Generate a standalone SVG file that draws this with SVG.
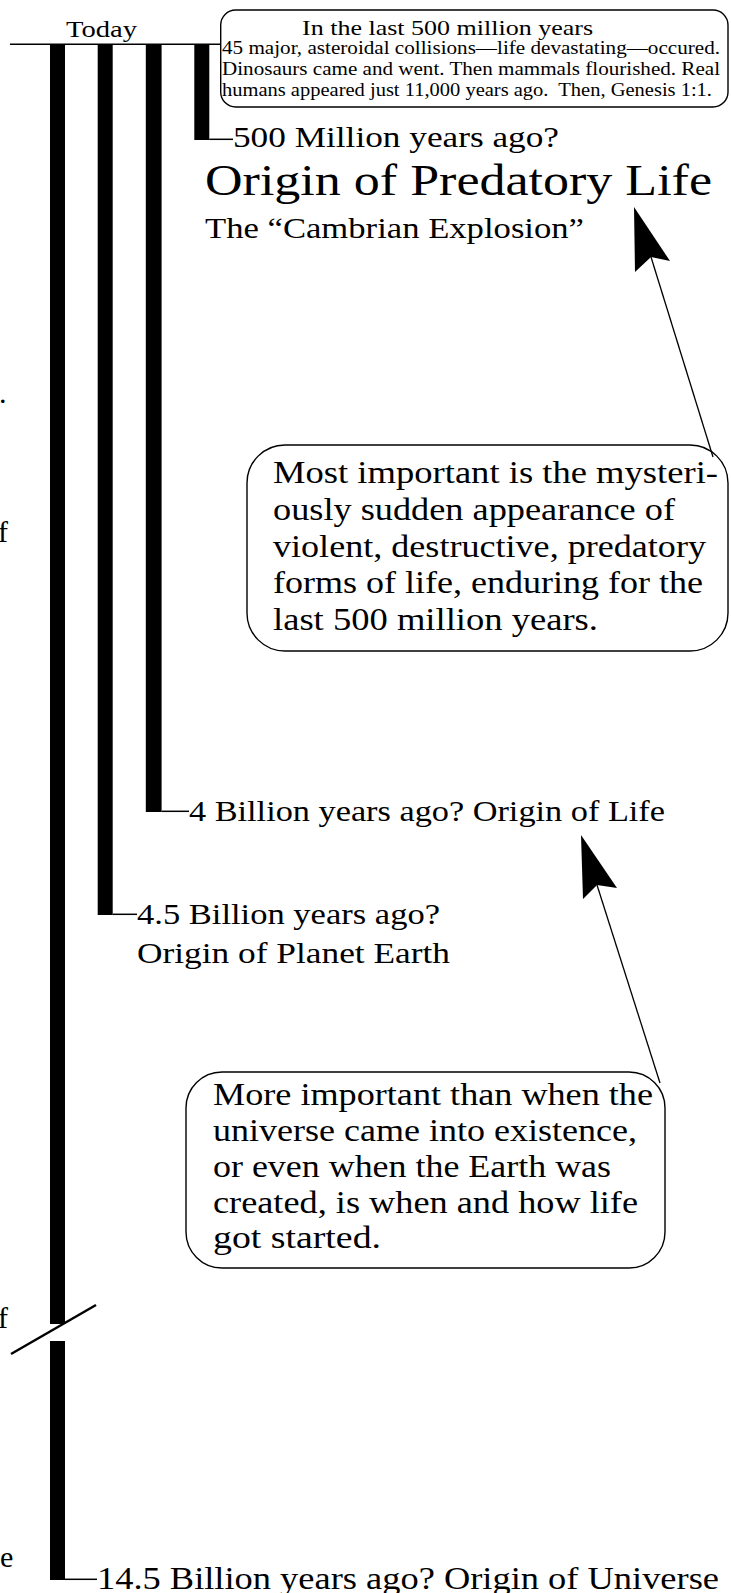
<svg xmlns="http://www.w3.org/2000/svg" width="731" height="1593" viewBox="0 0 731 1593">
<style>
text { font-family: "Liberation Serif", "Times New Roman", serif; fill: #000; }
.bar { fill: #000; }
.tick { stroke: #000; stroke-width: 1.5; fill: none; }
.box { fill: #fff; stroke: #000; stroke-width: 1.4; }
.conn { stroke: #000; stroke-width: 1.3; fill: none; }
.head { fill: #000; stroke: none; }
.lbl { font-size: 30px; }
.call { font-size: 31px; }
.small { font-size: 18px; }
</style>
<rect x="0" y="0" width="731" height="1593" fill="#fff"/>

<g id="timeline">
  <line class="tick" x1="10" y1="44.3" x2="221" y2="44.3"/>
  <rect class="bar" x="50" y="44" width="15" height="1280"/>
  <rect class="bar" x="50" y="1341" width="15" height="239"/>
  <line x1="11" y1="1354" x2="96" y2="1305" stroke="#000" stroke-width="2.5"/>
  <rect class="bar" x="97.7" y="44" width="15" height="871"/>
  <rect class="bar" x="145.8" y="44" width="15.8" height="768"/>
  <rect class="bar" x="194.3" y="44" width="15" height="96"/>
</g>

<g id="edge-fragments">
  <text class="lbl" x="-1" y="403">.</text>
  <text class="lbl" x="-2" y="542">f</text>
  <text class="lbl" x="-2" y="1328">f</text>
  <text class="lbl" x="0" y="1567">e</text>
</g>

<g id="node-today">
  <text x="66" y="37" font-size="24" textLength="71" lengthAdjust="spacingAndGlyphs">Today</text>
</g>

<g id="node-last500">
  <rect class="box" x="220.7" y="10" width="507.3" height="97" rx="15" ry="15"/>
  <text x="302" y="35" font-size="22" textLength="291" lengthAdjust="spacingAndGlyphs">In the last 500 million years</text>
  <text class="small" x="222" y="54" textLength="498" lengthAdjust="spacingAndGlyphs">45 major, asteroidal collisions—life devastating—occured.</text>
  <text class="small" x="222" y="75" textLength="498" lengthAdjust="spacingAndGlyphs">Dinosaurs came and went. Then mammals flourished. Real</text>
  <text class="small" x="222" y="96" textLength="490" lengthAdjust="spacingAndGlyphs" xml:space="preserve">humans appeared just 11,000 years ago.  Then, Genesis 1:1.</text>
</g>

<g id="node-500m">
  <line class="tick" x1="209.3" y1="139.3" x2="233" y2="139.3"/>
  <text class="lbl" x="233" y="147" textLength="326" lengthAdjust="spacingAndGlyphs">500 Million years ago?</text>
  <text x="205" y="195" font-size="44" textLength="507" lengthAdjust="spacingAndGlyphs">Origin of Predatory Life</text>
  <text class="lbl" x="205" y="238" textLength="379" lengthAdjust="spacingAndGlyphs">The “Cambrian Explosion”</text>
</g>

<g id="node-4b">
  <line class="tick" x1="161.6" y1="811.3" x2="189" y2="811.3"/>
  <text class="lbl" x="189" y="821" textLength="476" lengthAdjust="spacingAndGlyphs">4 Billion years ago? Origin of Life</text>
</g>

<g id="node-45b">
  <line class="tick" x1="112.7" y1="914.3" x2="137" y2="914.3"/>
  <text class="lbl" x="137" y="924" textLength="303" lengthAdjust="spacingAndGlyphs">4.5 Billion years ago?</text>
  <text class="lbl" x="137" y="963" textLength="313" lengthAdjust="spacingAndGlyphs">Origin of Planet Earth</text>
</g>

<g id="node-145b">
  <line class="tick" x1="65" y1="1579.3" x2="97" y2="1579.3"/>
  <text x="97" y="1589" font-size="31" textLength="622" lengthAdjust="spacingAndGlyphs">14.5 Billion years ago? Origin of Universe</text>
</g>

<g id="callout-predatory">
  <rect class="box" x="247" y="445" width="481" height="206" rx="38" ry="38"/>
  <text class="call" x="273" y="483" textLength="445" lengthAdjust="spacingAndGlyphs">Most important is the mysteri-</text>
  <text class="call" x="273" y="520" textLength="402" lengthAdjust="spacingAndGlyphs">ously sudden appearance of</text>
  <text class="call" x="273" y="557" textLength="433" lengthAdjust="spacingAndGlyphs">violent, destructive, predatory</text>
  <text class="call" x="273" y="593" textLength="430" lengthAdjust="spacingAndGlyphs">forms of life, enduring for the</text>
  <text class="call" x="273" y="630" textLength="325" lengthAdjust="spacingAndGlyphs">last 500 million years.</text>
</g>

<g id="callout-life">
  <rect class="box" x="186" y="1072" width="479" height="196" rx="36" ry="36"/>
  <text class="call" x="213" y="1105" textLength="440" lengthAdjust="spacingAndGlyphs">More important than when the</text>
  <text class="call" x="213" y="1141" textLength="424" lengthAdjust="spacingAndGlyphs">universe came into existence,</text>
  <text class="call" x="213" y="1177" textLength="398" lengthAdjust="spacingAndGlyphs">or even when the Earth was</text>
  <text class="call" x="213" y="1213" textLength="425" lengthAdjust="spacingAndGlyphs">created, is when and how life</text>
  <text class="call" x="213" y="1248" textLength="168" lengthAdjust="spacingAndGlyphs">got started.</text>
</g>

<g id="connectors">
  <line class="conn" x1="713" y1="457" x2="651" y2="257"/>
  <polygon class="head" points="634,207 670,261 651,257 635,272"/>
  <line class="conn" x1="660" y1="1083" x2="597" y2="885"/>
  <polygon class="head" points="581,835 617,888 597,885 583,899"/>
</g>
</svg>
